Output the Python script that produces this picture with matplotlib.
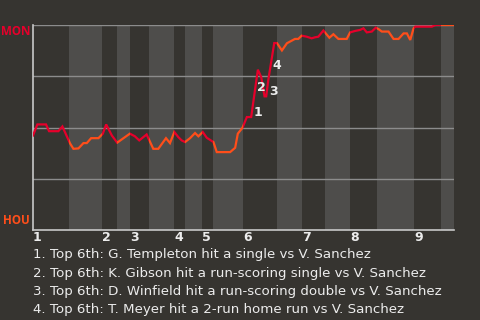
import matplotlib
matplotlib.use('Agg')
import matplotlib.pyplot as plt
import numpy as np

# win probability (1 = MON, 0 = HOU) per play index
plays = [0, 1.3, 3.9, 4.8, 7.6, 8.8, 11.1, 12.1, 13.6, 15.1, 16.1, 17.4, 19.6, 20.9, 21.9,
         23.6, 25.2, 27.0, 29.0, 30.5, 31.8, 34.0, 36.0, 37.5, 39.8, 41.0, 42.3, 43.5,
         44.5, 45.5, 47.0, 48.5, 49.5, 50.8, 52.0, 54.0, 55.0, 59.0, 60.5, 61.3, 62.7,
         64.0, 65.3, 67.3, 68.3, 69.3, 69.8, 70.4, 72.2, 73.0, 74.5, 76.0, 78.4, 79.4,
         80.4, 81.9, 83.4, 84.4, 85.4, 86.9, 88.7, 89.9, 91.4, 93.9, 94.9, 96.4, 97.9,
         98.9, 99.9, 101.4, 102.6, 103.4, 104.4, 106.4, 107.9, 109.4, 110.9, 111.9,
         112.9, 113.9, 114.4, 119.4, 120.4, 126]
win_prob = [0.461, 0.515, 0.515, 0.482, 0.482, 0.505, 0.422, 0.396, 0.398, 0.424, 0.424,
            0.448, 0.448, 0.470, 0.515, 0.461, 0.426, 0.447, 0.470, 0.457, 0.437, 0.466,
            0.396, 0.396, 0.448, 0.424, 0.478, 0.453, 0.437, 0.429, 0.448, 0.473, 0.457,
            0.478, 0.450, 0.429, 0.380, 0.380, 0.401, 0.470, 0.499, 0.551, 0.551, 0.782,
            0.746, 0.652, 0.652, 0.730, 0.912, 0.912, 0.876, 0.911, 0.932, 0.932, 0.948,
            0.943, 0.935, 0.940, 0.943, 0.973, 0.938, 0.955, 0.932, 0.932, 0.964, 0.971,
            0.976, 0.984, 0.964, 0.968, 0.987, 0.980, 0.968, 0.968, 0.932, 0.932, 0.959,
            0.959, 0.927, 0.984, 0.992, 0.992, 1.0, 1.0]

# half-inning boundaries (top, bottom, top, ...)
half_starts = [0, 10.8, 20.7, 25.1, 29.0, 34.7, 42.2, 45.5, 50.5, 54.0, 62.96,
               73.0, 80.6, 87.4, 94.9, 103.0, 114.1, 122.2, 126]
innings = ['1', '2', '3', '4', '5', '6', '7', '8', '9']

event_ids = ['1', '2', '3', '4']
event_x = [67.4, 68.3, 71.9, 73.1]
event_y = [0.574, 0.696, 0.676, 0.803]
events = [
    "1. Top 6th: G. Templeton hit a single vs V. Sanchez",
    "2. Top 6th: K. Gibson hit a run-scoring single vs V. Sanchez",
    "3. Top 6th: D. Winfield hit a run-scoring double vs V. Sanchez",
    "4. Top 6th: T. Meyer hit a 2-run home run vs V. Sanchez",
]

bg = '#363430'
light = '#4e4d4b'
red = '#e6002b'
orange = '#ff4e1a'
txt = '#ececec'
font = 'DejaVu Sans'

fig = plt.figure(figsize=(4.8, 3.2), dpi=100, facecolor=bg)
ax = fig.add_axes([33/480, 1-230/320, 421/480, 205/320])
ax.set_facecolor(bg)

for k in range(len(half_starts) - 1):
    top_half = (k % 2 == 0)
    span = ax.axvspan(half_starts[k], half_starts[k+1],
                      facecolor=(bg if top_half else light), edgecolor='none', zorder=0)
    ln, = ax.plot(plays, win_prob, color=(red if top_half else orange), lw=1.6,
                  solid_joinstyle='miter', zorder=3)
    ln.set_clip_path(span)

for g in [0.25, 0.5, 0.75, 1.0]:
    ax.axhline(g, color='#8c8c8c', lw=1, zorder=1)

for k in range(len(event_ids)):
    ax.text(event_x[k], event_y[k], event_ids[k], color=txt, fontsize=9,
            fontweight='bold', family=font, ha='center', va='center', zorder=4)

ax.set_xlim(0, 126)
ax.set_ylim(0, 1)
ax.set_yticks([])
inning_pos = half_starts[0:-1:2]
ax.set_xticks(inning_pos)
ax.set_xticklabels(innings, color=txt, fontsize=9, fontweight='bold', family=font, ha='left')
ax.tick_params(axis='x', length=0, pad=1)
for s in ['top', 'right']:
    ax.spines[s].set_visible(False)
for s in ['left', 'bottom']:
    ax.spines[s].set_color('#c8c8c8')
    ax.spines[s].set_linewidth(1.2)

ax.text(-0.007, 0.97, 'MON', transform=ax.get_yaxis_transform(), ha='right', va='center',
        color=red, fontsize=8.4, fontweight='bold', family='Open Sans')
ax.text(-0.007, 0.045, 'HOU', transform=ax.get_yaxis_transform(), ha='right', va='center',
        color=orange, fontsize=8.4, fontweight='bold', family='Open Sans')

for k, line in enumerate(events):
    fig.text(33/480, 1 - (258.3 + 18.3*k)/320, line, color=txt, fontsize=9.6,
             family=font, ha='left', va='baseline')

fig.savefig('out.png', dpi=100, facecolor=bg)
